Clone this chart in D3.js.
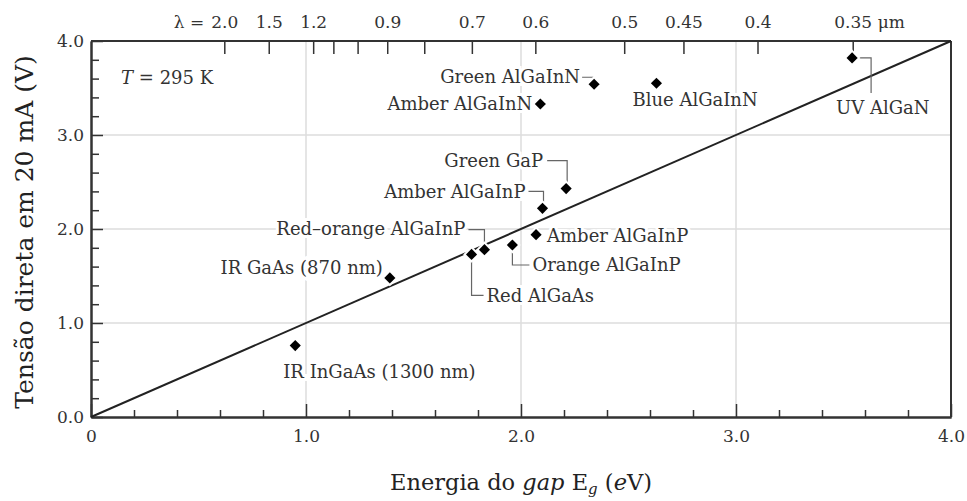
<!DOCTYPE html>
<html>
<head>
<meta charset="utf-8">
<script src="https://cdn.jsdelivr.net/npm/d3@7"></script>
<style>
  body { margin: 0; background: #fff; }
  svg text { font-family: "DejaVu Serif", serif; fill: #333; }
</style>
</head>
<body>
<div id="chart"></div>
<script>
// LED data: gap energy (eV) vs forward voltage at 20 mA (V)
var devices = ["IR InGaAs (1300 nm)", "IR GaAs (870 nm)", "Red AlGaAs", "Red\u2013orange AlGaInP",
  "Orange AlGaInP", "Amber AlGaInP", "Amber AlGaInP", "Green GaP",
  "Amber AlGaInN", "Green AlGaInN", "Blue AlGaInN", "UV AlGaN"];
var gapEnergy = [0.95, 1.39, 1.77, 1.83, 1.96, 2.07, 2.10, 2.21, 2.09, 2.34, 2.63, 3.54];
var forwardVoltage = [0.76, 1.48, 1.73, 1.78, 1.83, 1.94, 2.22, 2.43, 3.33, 3.54, 3.55, 3.82];

// axis ticks
var energyTicks = [0, 1, 2, 3, 4];
var energyLabels = ["0", "1.0", "2.0", "3.0", "4.0"];
var voltageTicks = [0, 1, 2, 3, 4];
var voltageLabels = ["0.0", "1.0", "2.0", "3.0", "4.0"];
var lambdaTicks = [2.0, 1.5, 1.2, 1.1, 1.0, 0.9, 0.8, 0.7, 0.6, 0.5, 0.45, 0.4, 0.35];
var lambdaLabels = ["2.0", "1.5", "1.2", "", "", "0.9", "", "0.7", "0.6", "0.5", "0.45", "0.4", "0.35"];
var hc = 1.24; // eV * um

// label placement (pixel offsets from the point) and leader lines
var labelPlace = [
  {dx: -12, dy: 32, anchor: "start"},
  {dx: -7, dy: -4, anchor: "end"},
  {dx: 15, dy: 48, anchor: "start", leader: [[0, 6], [0, 41], [12, 41]]},
  {dx: -19, dy: -15, anchor: "end", leader: [[-16, -20], [0, -20], [0, -6]]},
  {dx: 20, dy: 26, anchor: "start", leader: [[0, 6], [0, 20], [17, 20]]},
  {dx: 11, dy: 7, anchor: "start"},
  {dx: -17, dy: -10, anchor: "end", leader: [[-14, -17], [1, -17], [1, -6]]},
  {dx: -23, dy: -22, anchor: "end", leader: [[-19, -28], [1, -28], [1, -6]]},
  {dx: -8, dy: 6, anchor: "end"},
  {dx: -14, dy: -1, anchor: "end", leader: [[-12, -7], [-1, -7], [-1, -4]]},
  {dx: -24, dy: 23, anchor: "start"},
  {dx: -16, dy: 56, anchor: "start", leader: [[6, 0], [19, 0], [19, 35]]}
];

var margin = {top: 41, right: 16, bottom: 84, left: 91},
    width = 951 - margin.left,
    height = 417 - margin.top;

var svg = d3.select("#chart").append("svg")
    .attr("width", 967)
    .attr("height", 501)
    .style("background", "#fff");

var g = svg.append("g")
    .attr("transform", "translate(" + margin.left + "," + margin.top + ")");

var x = d3.scaleLinear().domain([0, 4]).range([0, width]);
var y = d3.scaleLinear().domain([0, 4]).range([height, 0]);

// grid
g.append("g").selectAll("line")
    .data([1, 2, 3])
    .enter().append("line")
    .attr("x1", function(d) { return x(d); })
    .attr("x2", function(d) { return x(d); })
    .attr("y1", 0).attr("y2", height)
    .style("stroke", "#dcdcdc").style("stroke-width", 1.5);
g.append("g").selectAll("line")
    .data([1, 2, 3])
    .enter().append("line")
    .attr("y1", function(d) { return y(d); })
    .attr("y2", function(d) { return y(d); })
    .attr("x1", 0).attr("x2", width)
    .style("stroke", "#dcdcdc").style("stroke-width", 1.5);

// minor ticks every 0.2
var minor = d3.range(1, 20).filter(function(i) { return i % 5 !== 0; })
    .map(function(i) { return i * 0.2; });

function styleAxis(sel) {
  sel.selectAll("path").style("stroke", "#333").style("stroke-width", 2);
  sel.selectAll("line").style("stroke", "#333").style("stroke-width", 1.5);
  sel.selectAll("text").style("font-family", "DejaVu Serif").style("font-size", "17px").style("fill", "#333");
}

var xMinor = g.append("g").attr("transform", "translate(0," + height + ")")
    .call(d3.axisBottom(x).tickValues(minor).tickSize(-7).tickSizeOuter(0).tickFormat(""));
styleAxis(xMinor);
var xAxis = g.append("g").attr("transform", "translate(0," + height + ")")
    .call(d3.axisBottom(x).tickValues(energyTicks).tickSize(-13).tickSizeOuter(0).tickPadding(13)
      .tickFormat(function(d, i) { return energyLabels[i]; }));
styleAxis(xAxis);

var yMinor = g.append("g")
    .call(d3.axisLeft(y).tickValues(minor).tickSize(-8).tickSizeOuter(0).tickFormat(""));
styleAxis(yMinor);
var yAxis = g.append("g")
    .call(d3.axisLeft(y).tickValues(voltageTicks).tickSize(-12).tickSizeOuter(0).tickPadding(7)
      .tickFormat(function(d, i) { return voltageLabels[i]; }));
styleAxis(yAxis);

// top wavelength axis
var topAxis = g.append("g")
    .call(d3.axisTop(x).tickValues(lambdaTicks.map(function(l) { return hc / l; }))
      .tickSize(-13).tickSizeOuter(0).tickPadding(13)
      .tickFormat(function(d, i) { return lambdaLabels[i]; }));
styleAxis(topAxis);
topAxis.select(".domain").attr("d", "M0,0H" + width);

g.append("text")
    .attr("x", x(hc / lambdaTicks[0]) - 20)
    .attr("y", -13)
    .attr("text-anchor", "end")
    .style("font-size", "17px")
    .text("\u03bb =");
g.append("text")
    .attr("x", x(hc / lambdaTicks[lambdaTicks.length - 1]) + 25)
    .attr("y", -13)
    .attr("text-anchor", "start")
    .style("font-size", "17px")
    .text("\u03bcm");

// right frame
g.append("line")
    .attr("x1", width).attr("x2", width)
    .attr("y1", 0).attr("y2", height)
    .style("stroke", "#333").style("stroke-width", 2);

// V = Eg/e line
g.append("line")
    .attr("x1", x(0)).attr("y1", y(0))
    .attr("x2", x(4)).attr("y2", y(4))
    .style("stroke", "#222").style("stroke-width", 2);

// leader lines
labelPlace.forEach(function(p, i) {
  if (!p.leader) return;
  var px = x(gapEnergy[i]), py = y(forwardVoltage[i]);
  g.append("path")
    .attr("d", d3.line()(p.leader.map(function(o) { return [px + o[0], py + o[1]]; })))
    .style("fill", "none")
    .style("stroke", "#666")
    .style("stroke-width", 1.2);
});

// labels with white halo
g.append("g").selectAll("text")
    .data(devices)
    .enter().append("text")
    .attr("x", function(d, i) { return x(gapEnergy[i]) + labelPlace[i].dx; })
    .attr("y", function(d, i) { return y(forwardVoltage[i]) + labelPlace[i].dy; })
    .attr("text-anchor", function(d, i) { return labelPlace[i].anchor; })
    .style("font-size", "18px")
    .style("stroke", "#fff")
    .style("stroke-width", 6)
    .style("paint-order", "stroke")
    .text(function(d) { return d; });

// diamonds
var diamond = d3.symbol().type(d3.symbolSquare).size(62);
g.append("g").selectAll("path")
    .data(devices)
    .enter().append("path")
    .attr("d", diamond)
    .attr("transform", function(d, i) {
      return "translate(" + x(gapEnergy[i]) + "," + y(forwardVoltage[i]) + ") rotate(45)";
    })
    .style("fill", "#000")
    .style("stroke", "#fff")
    .style("stroke-width", 4)
    .style("paint-order", "stroke");

// temperature note
var tNote = g.append("text")
    .attr("x", x(0.14))
    .attr("y", y(3.54))
    .style("font-size", "18px");
tNote.append("tspan").style("font-style", "italic").text("T");
tNote.append("tspan").text(" = 295 K");

// axis titles
svg.append("text")
    .attr("transform", "translate(33," + (margin.top + height / 2 + 3) + ") rotate(-90)")
    .attr("text-anchor", "middle")
    .style("font-size", "25px")
    .style("fill", "#222")
    .text("Tens\u00e3o direta em 20 mA (V)");

var xt = svg.append("text")
    .attr("x", margin.left + x(2))
    .attr("y", 490)
    .attr("text-anchor", "middle")
    .style("font-size", "22.5px")
    .style("fill", "#222");
xt.append("tspan").text("Energia do ");
xt.append("tspan").style("font-style", "italic").text("gap");
xt.append("tspan").text(" E");
xt.append("tspan").style("font-style", "italic").style("font-size", "15px").attr("dy", 4).text("g");
xt.append("tspan").attr("dy", -4).text(" (");
xt.append("tspan").style("font-style", "italic").text("e");
xt.append("tspan").text("V)");
</script>
</body>
</html>
